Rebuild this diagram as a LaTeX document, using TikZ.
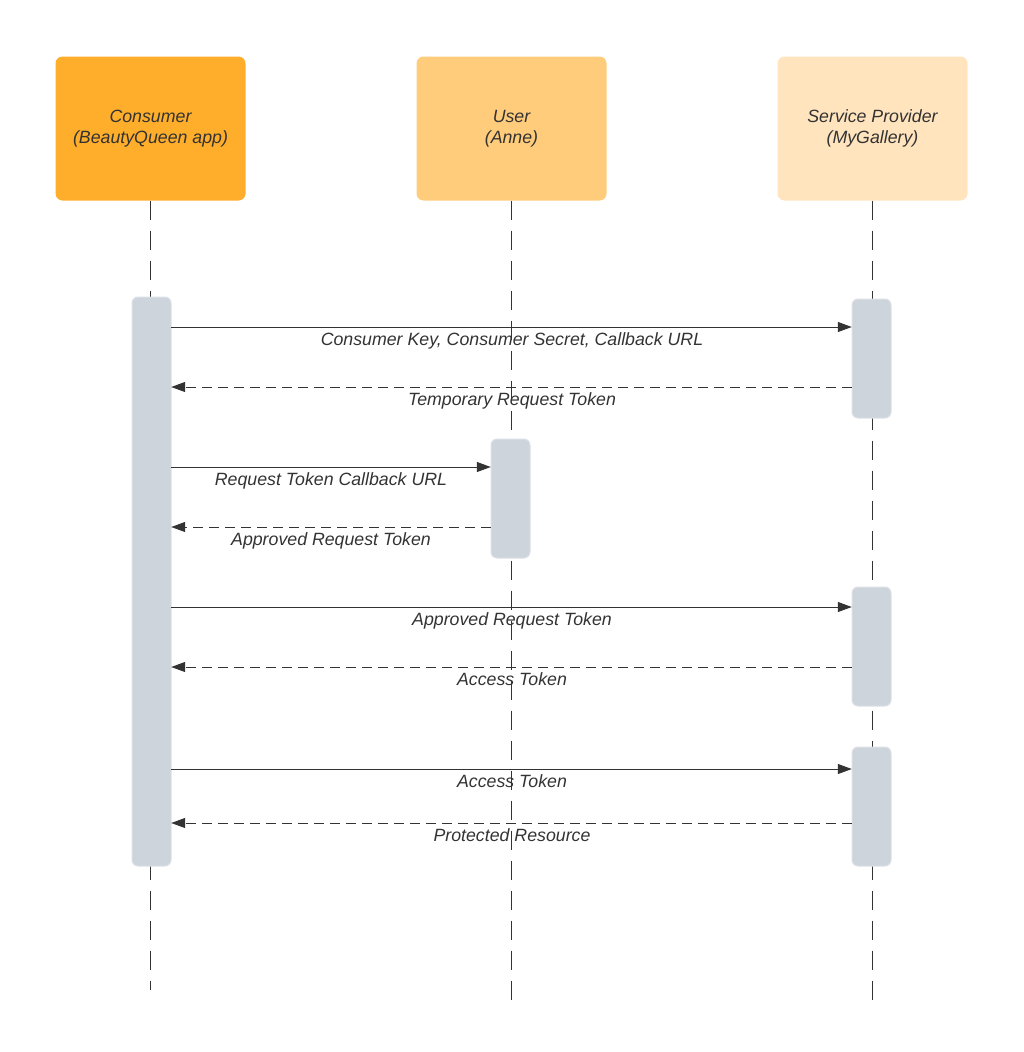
\documentclass[tikz,border=0pt]{standalone}
\usepackage{fontspec}
\setmainfont{Liberation Sans}
\usetikzlibrary{arrows.meta}
\definecolor{ink}{HTML}{333333}
\definecolor{consc}{HTML}{FFAE2B}
\definecolor{userc}{HTML}{FFCC7B}
\definecolor{spc}{HTML}{FFE4BE}
\definecolor{actc}{HTML}{CED4DC}
\definecolor{actb}{HTML}{DDE1E7}
\tikzset{
  head/.style={rounded corners=7pt, minimum width=190pt, minimum height=144pt, inner sep=0pt,
    align=center, font=\fontsize{17.75}{21.5}\selectfont\itshape, text=ink},
  actbar/.style={fill=actc, draw=actb, line width=1pt, rounded corners=6pt},
  lifeline/.style={draw=ink, line width=1pt, dash pattern=on 19pt off 11pt},
  msg/.style={draw=ink, line width=1pt, -{Triangle[length=14pt,width=10pt]}},
  reply/.style={msg, dash pattern=on 10pt off 6pt},
  lbl/.style={font=\fontsize{17.75}{20}\selectfont\itshape, text=ink, inner sep=0pt,
    text height=12.8pt, text depth=3.8pt}
}
\begin{document}
\begin{tikzpicture}[x=1pt,y=-1pt]
\useasboundingbox (0,0) rectangle (1023,1052);
% headers
\node[head, fill=consc] (cons) at (150.5,128.5) {Consumer\\(BeautyQueen app)};
\node[head, fill=userc] (user) at (511.5,128.5) {User\\(Anne)};
\node[head, fill=spc] (sp) at (872.5,128.5) {Service Provider\\(MyGallery)};
% lifeline ends
\coordinate (consend) at (150.5,990);
\coordinate (userend) at (511.5,1000);
\coordinate (spend) at (872.5,1000);
\draw[lifeline] (cons.south) -- (consend);
\draw[lifeline] (user.south) -- (userend);
\draw[lifeline] (sp.south) -- (spend);
% activation bars
\draw[actbar] (132,297) rectangle (171,866);
\node[inner sep=0pt, minimum width=39pt, minimum height=569pt] (ca) at (151.5,581.5) {};
\draw[actbar] (852,299) rectangle (891,418);
\node[inner sep=0pt, minimum width=39pt, minimum height=119pt] (sa1) at (871.5,358.5) {};
\draw[actbar] (491,439) rectangle (530,558);
\node[inner sep=0pt, minimum width=39pt, minimum height=119pt] (ua) at (510.5,498.5) {};
\draw[actbar] (852,587) rectangle (891,706);
\node[inner sep=0pt, minimum width=39pt, minimum height=119pt] (sa2) at (871.5,646.5) {};
\draw[actbar] (852,747) rectangle (891,866);
\node[inner sep=0pt, minimum width=39pt, minimum height=119pt] (sa3) at (871.5,806.5) {};
% messages
\draw[msg] (ca.east |- 0,327) -- (sa1.west |- 0,327);
\node[lbl] (l1) at (512,341) {Consumer Key, Consumer Secret, Callback URL};
\draw[reply] (sa1.west |- 0,387) -- (ca.east |- 0,387);
\node[lbl] (l2) at (512,401) {Temporary Request Token};
\draw[msg] (ca.east |- 0,467) -- (ua.west |- 0,467);
\node[lbl] (l3) at (331,481) {Request Token Callback URL};
\draw[reply] (ua.west |- 0,527) -- (ca.east |- 0,527);
\node[lbl] (l4) at (331,541) {Approved Request Token};
\draw[msg] (ca.east |- 0,607) -- (sa2.west |- 0,607);
\node[lbl] (l5) at (512,621) {Approved Request Token};
\draw[reply] (sa2.west |- 0,667) -- (ca.east |- 0,667);
\node[lbl] (l6) at (512,681) {Access Token};
\draw[msg] (ca.east |- 0,769) -- (sa3.west |- 0,769);
\node[lbl] (l7) at (512,783) {Access Token};
\draw[reply] (sa3.west |- 0,823) -- (ca.east |- 0,823);
\node[lbl] (l8) at (512,837) {Protected Resource};
\end{tikzpicture}
\end{document}
